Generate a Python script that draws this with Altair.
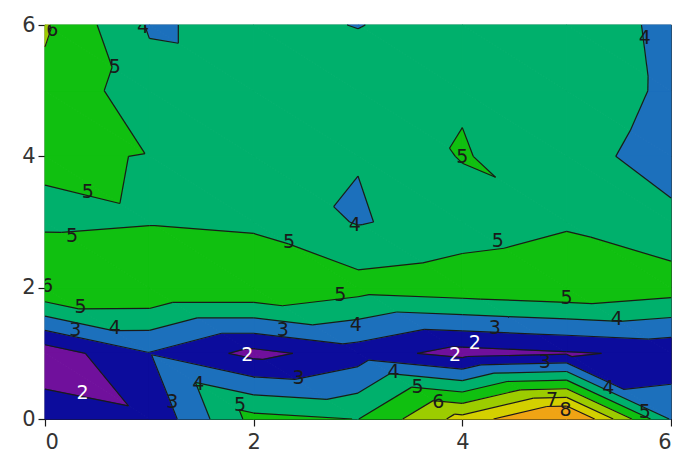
import numpy as np
import pandas as pd
import altair as alt

# Grid nodes (x = 0..6, y = 0..6); one list of z values per grid row
grid_x = [0, 1, 2, 3, 4, 5, 6]
grid_y = [0, 1, 2, 3, 4, 5, 6]
z_y0 = [2.50, 2.15, 5.33, 4.98, 7.36, 9.50, 3.90]
z_y1 = [1.40, 2.95, 1.70, 2.50, 1.62, 1.90, 2.20]
z_y2 = [5.98, 5.95, 5.95, 5.40, 5.65, 5.90, 5.50]
z_y3 = [4.82, 4.945, 4.80, 3.93, 4.40, 4.85, 4.26]
z_y4 = [5.14, 4.965, 4.23, 4.03, 5.07, 4.40, 3.55]
z_y5 = [5.80, 4.39, 4.26, 4.50, 4.91, 4.70, 3.80]
z_y6 = [6.10, 3.90, 4.26, 3.97, 4.40, 4.71, 3.72]

# Contour levels and band colours
levels = [2, 3, 4, 5, 6, 7, 8]
band_names = ["<2", "2-3", "3-4", "4-5", "5-6", "6-7", "7-8", ">8"]
band_colors = ["#70109c", "#0c0c9c", "#1c70bc", "#00b06c", "#10c010",
               "#9ccc00", "#d4d000", "#f0a414"]

# Contour labels (position and text)
lab_x = [0.67, 0.94, 0.41, 0.26, 0.02, 0.34, 0.29, 0.67, 0.36, 1.22, 1.47, 1.87,
         1.94, 2.28, 2.43, 2.34, 2.83, 2.98, 2.97, 3.34, 3.57, 3.77, 4.00, 3.93,
         4.12, 4.31, 4.34, 4.79, 4.86, 4.99, 5.00, 5.48, 5.40, 5.75, 5.75, 0.07]
lab_y = [5.36, 5.97, 3.46, 2.79, 2.03, 1.70, 1.36, 1.39, 0.40, 0.26, 0.53, 0.21,
         0.97, 1.36, 0.62, 2.70, 1.89, 1.43, 2.95, 0.72, 0.49, 0.26, 3.99, 0.97,
         1.16, 1.39, 2.71, 0.87, 0.29, 0.14, 1.84, 1.52, 0.47, 0.11, 5.80, 5.92]
lab_t = ["5", "4", "5", "5", "6", "5", "3", "4", "2", "3", "4", "5",
         "2", "3", "3", "5", "5", "4", "4", "4", "5", "6", "5", "2",
         "2", "3", "5", "3", "7", "8", "5", "4", "4", "5", "4", "6"]

Z = np.array([z_y0, z_y1, z_y2, z_y3, z_y4, z_y5, z_y6], dtype=float)  # Z[j, i]


def clip(poly, level, keep_above):
    out = []
    n = len(poly)
    for k in range(n):
        p = poly[k]
        q = poly[(k + 1) % n]
        in_p = p[2] >= level if keep_above else p[2] <= level
        in_q = q[2] >= level if keep_above else q[2] <= level
        if in_p:
            out.append(p)
        if in_p != in_q:
            t = (level - p[2]) / (q[2] - p[2])
            out.append((p[0] + t * (q[0] - p[0]), p[1] + t * (q[1] - p[1]), level))
    return out


triangles = []
for j in range(len(grid_y) - 1):
    for i in range(len(grid_x) - 1):
        a = (grid_x[i], grid_y[j], Z[j, i])
        b = (grid_x[i + 1], grid_y[j], Z[j, i + 1])
        c = (grid_x[i], grid_y[j + 1], Z[j + 1, i])
        d = (grid_x[i + 1], grid_y[j + 1], Z[j + 1, i + 1])
        triangles.append([a, b, c])
        triangles.append([b, d, c])

bounds = [-1e9] + levels + [1e9]
poly_rows = []
pid = 0
for tri in triangles:
    for bi in range(len(band_names)):
        poly = clip(tri, bounds[bi], True)
        if len(poly) >= 3:
            poly = clip(poly, bounds[bi + 1], False)
        if len(poly) >= 3:
            for k, p in enumerate(poly + [poly[0]]):
                poly_rows.append({"pid": pid, "k": k, "x": p[0], "y": p[1],
                                  "band": band_names[bi]})
            pid += 1
df_poly = pd.DataFrame(poly_rows)

seg_rows = []
for tri in triangles:
    for L in levels:
        pts = []
        for k in range(3):
            p = tri[k]
            q = tri[(k + 1) % 3]
            if (p[2] - L) * (q[2] - L) < 0:
                t = (L - p[2]) / (q[2] - p[2])
                pts.append((p[0] + t * (q[0] - p[0]), p[1] + t * (q[1] - p[1])))
        if len(pts) == 2:
            seg_rows.append({"x1": pts[0][0], "y1": pts[0][1],
                             "x2": pts[1][0], "y2": pts[1][1]})
df_seg = pd.DataFrame(seg_rows)

df_lab = pd.DataFrame({"x": lab_x, "y": lab_y, "t": lab_t})
df_lab["c"] = ["#ffffff" if t == "2" else "#1a1a1a" for t in lab_t]

xs = alt.Scale(domain=[0, 6], nice=False, zero=False)
ys = alt.Scale(domain=[0, 6], nice=False, zero=False)
band_scale = alt.Scale(domain=band_names, range=band_colors)

fills = alt.Chart(df_poly).mark_line(strokeWidth=1, strokeJoin="round").encode(
    x=alt.X("x:Q", scale=xs,
            axis=alt.Axis(values=[0, 2, 4, 6], format="d", title=None, labelPadding=5)),
    y=alt.Y("y:Q", scale=ys,
            axis=alt.Axis(values=[0, 2, 4, 6], format="d", title=None, labelPadding=3)),
    detail="pid:N",
    order="k:Q",
    fill=alt.Fill("band:N", scale=band_scale, legend=None),
    stroke=alt.Stroke("band:N", scale=band_scale, legend=None),
)

lines = alt.Chart(df_seg).mark_rule(color="#1a1a1a", strokeWidth=1.2).encode(
    x=alt.X("x1:Q", scale=xs, title=None),
    y=alt.Y("y1:Q", scale=ys, title=None),
    x2="x2:Q",
    y2="y2:Q",
)

labels = alt.Chart(df_lab).mark_text(fontSize=19, font="DejaVu Sans", clip=True).encode(
    x=alt.X("x:Q", scale=xs, title=None),
    y=alt.Y("y:Q", scale=ys, title=None),
    text="t:N",
    color=alt.Color("c:N", scale=None),
)

chart = alt.layer(fills, lines, labels).properties(
    width=626, height=394,
    autosize=alt.AutoSizeParams(type="none"),
    padding={"left": 37, "top": 17, "right": 1, "bottom": 33},
).configure_view(
    stroke="#1a1a1a", strokeWidth=1.2
).configure_axis(
    grid=False, labelFontSize=21, labelFont="DejaVu Sans", labelColor="#333333",
    tickColor="#1a1a1a", domainColor="#1a1a1a", tickSize=7,
    domainWidth=1.2, tickWidth=1.2,
)

chart.save("out.html", embed_options={"renderer": "svg", "actions": False})
